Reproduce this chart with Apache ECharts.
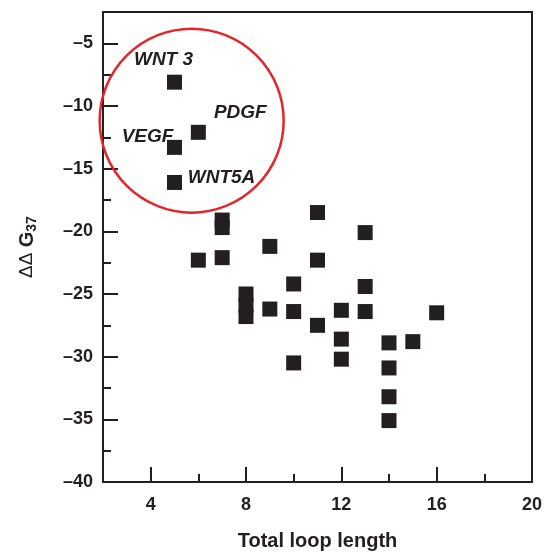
<!DOCTYPE html>
<html>
<head>
<meta charset="utf-8">
<script src="https://cdn.jsdelivr.net/npm/echarts@6/dist/echarts.min.js"></script>
<style>
  html, body { margin: 0; padding: 0; background: #fff; }
  #chart { width: 546px; height: 552px; }
</style>
</head>
<body>
<div id="chart"></div>
<script>
// plain points: total loop length vs ΔΔG37
const loopLength = [7, 7, 6, 7, 9, 11, 11, 13, 8, 8, 8, 9, 10, 10, 10, 11, 12, 12, 12, 13, 13, 14, 14, 14, 14, 15, 16];
const deltaG = [-19.1, -19.7, -22.3, -22.1, -21.2, -18.5, -22.3, -20.1, -25.0, -25.9, -26.8, -26.2, -24.2, -26.4, -30.5, -27.5, -26.3, -28.6, -30.2, -24.4, -26.4, -28.9, -30.9, -33.2, -35.1, -28.8, -26.5];

// circled, named points
const geneNames = ["WNT 3", "PDGF", "VEGF", "WNT5A"];
const geneLoop = [5, 6, 5, 5];
const geneDeltaG = [-8.1, -12.1, -13.3, -16.1];

const xTicks = [4, 8, 12, 16, 20];
const xMinorTicks = [6, 10, 14, 18];
const yTicks = [-40, -35, -30, -25, -20, -15, -10, -5];
const yMinorTicks = [-37.5, -32.5, -27.5, -22.5, -17.5, -12.5, -7.5];

const ink = "#231f20";
const font = "'Liberation Sans', Arial, sans-serif";

// where each gene label sits relative to its square (px)
const labelOffset = {
  "WNT 3": [-11, -22],
  "PDGF": [42, -20],
  "VEGF": [-27, -11],
  "WNT5A": [47, -5]
};

const chart = echarts.init(document.getElementById("chart"));

const dash = (v) => (v < 0 ? "\u2013" + Math.abs(v) : String(v));

chart.setOption({
  animation: false,
  grid: {
    left: 103, top: 12, width: 429, height: 470,
    outerBoundsMode: "none",
    show: true, borderColor: ink, borderWidth: 2
  },
  xAxis: [
    {
      type: "value", min: 2, max: 20, position: "bottom",
      splitLine: { show: false },
      axisLine: { show: true, lineStyle: { color: ink, width: 2 } },
      axisTick: { show: true, inside: true, length: 15, customValues: xTicks, lineStyle: { color: ink, width: 2 } },
      axisLabel: { customValues: xTicks, margin: 14, color: ink, fontFamily: font, fontWeight: "bold", fontSize: 18 },
      name: "Total loop length", nameLocation: "middle", nameGap: 49,
      nameTextStyle: { color: ink, fontFamily: font, fontWeight: "bold", fontSize: 20 }
    },
    {
      type: "value", min: 2, max: 20, position: "bottom",
      splitLine: { show: false },
      axisLine: { show: false },
      axisTick: { show: true, inside: true, length: 8, customValues: xMinorTicks, lineStyle: { color: ink, width: 2 } },
      axisLabel: { show: false }
    }
  ],
  yAxis: [
    {
      type: "value", min: -40, max: -2.5, position: "left",
      splitLine: { show: false },
      axisLine: { show: true, lineStyle: { color: ink, width: 2 } },
      axisTick: { show: true, inside: true, length: 15, customValues: yTicks, lineStyle: { color: ink, width: 2 } },
      axisLabel: { customValues: yTicks, margin: 10, color: ink, fontFamily: font, fontWeight: "bold", fontSize: 18, formatter: dash },
      name: "{d|\u0394\u0394 }{g|G}{s|37}", nameLocation: "middle", nameGap: 64, nameRotate: 90,
      nameTextStyle: {
        color: ink, fontFamily: font,
        rich: {
          d: { fontSize: 19, fontWeight: "normal", color: ink, fontFamily: font, lineHeight: 24 },
          g: { fontSize: 20, fontWeight: "bold", color: ink, fontFamily: font, lineHeight: 24 },
          s: { fontSize: 14, fontWeight: "bold", color: ink, fontFamily: font, lineHeight: 24, verticalAlign: "bottom", padding: [8, 0, 0, 0] }
        }
      }
    },
    {
      type: "value", min: -40, max: -2.5, position: "left",
      splitLine: { show: false },
      axisLine: { show: false },
      axisTick: { show: true, inside: true, length: 8, customValues: yMinorTicks, lineStyle: { color: ink, width: 2 } },
      axisLabel: { show: false }
    }
  ],
  series: [
    {
      type: "scatter",
      symbol: "rect",
      symbolSize: 15,
      itemStyle: { color: ink, opacity: 1 },
      data: loopLength.map((x, i) => [x, deltaG[i]])
    },
    {
      type: "scatter",
      symbol: "rect",
      symbolSize: 15,
      itemStyle: { color: ink, opacity: 1 },
      data: geneNames.map((n, i) => ({
        name: n,
        value: [geneLoop[i], geneDeltaG[i]],
        label: {
          show: true, position: "inside", offset: labelOffset[n],
          formatter: "{b}", align: "center", verticalAlign: "middle",
          color: ink, fontFamily: font, fontWeight: "bold", fontStyle: "italic", fontSize: 19
        }
      }))
    },
    {
      // red ring around the four named genes
      type: "custom",
      silent: true,
      data: [[5.72, -11.17]],
      renderItem: (params, api) => {
        const c = api.coord([api.value(0), api.value(1)]);
        const r = api.size([3.86, 0])[0];
        return {
          type: "circle",
          shape: { cx: c[0], cy: c[1], r: r },
          style: { fill: "none", stroke: "#e3262b", lineWidth: 2.5 }
        };
      }
    }
  ]
});
</script>
</body>
</html>
